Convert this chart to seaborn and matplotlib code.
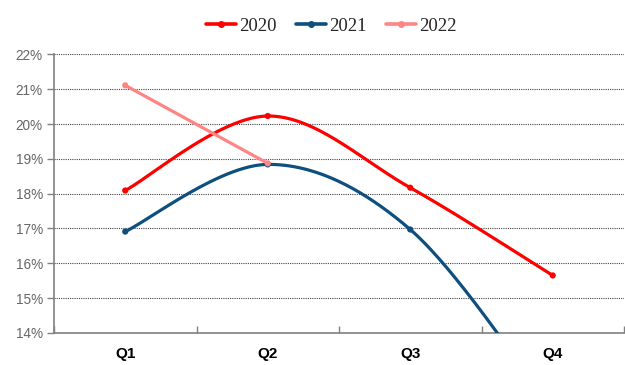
import numpy as np
import pandas as pd
import matplotlib
matplotlib.use("Agg")
import matplotlib.pyplot as plt
from matplotlib.lines import Line2D
import seaborn as sns

quarters = ["Q1", "Q2", "Q3", "Q4"]
years = ["2020", "2021", "2022"]
values_2020 = [18.09, 20.23, 18.17, 15.65]
values_2021 = [16.91, 18.84, 16.97, 11.8]
values_2022 = [21.11, 18.87]
colors = {"2020": "#FF0000", "2021": "#0D4F7E", "2022": "#FF8585"}
y_ticks = [14, 15, 16, 17, 18, 19, 20, 21, 22]


def smooth(xs, ys, n=60):
    """Cubic Bezier smoothing through every point (Catmull-Rom style tangents)."""
    pts = np.column_stack([xs, ys]).astype(float)
    if len(pts) < 3:
        return pts[:, 0], pts[:, 1]
    ext = np.vstack([pts[0], pts, pts[-1]])
    out = []
    t = np.linspace(0, 1, n)[:, None]
    for i in range(len(pts) - 1):
        p0, p3 = ext[i + 1], ext[i + 2]
        c1 = p0 + (ext[i + 2] - ext[i]) / 6.0
        c2 = p3 - (ext[i + 3] - ext[i + 1]) / 6.0
        seg = ((1 - t) ** 3) * p0 + 3 * ((1 - t) ** 2) * t * c1 + 3 * (1 - t) * t ** 2 * c2 + t ** 3 * p3
        out.append(seg if i == 0 else seg[1:])
    seg = np.vstack(out)
    return seg[:, 0], seg[:, 1]


series = {"2020": values_2020, "2021": values_2021, "2022": values_2022}

curve_rows, point_rows = [], []
for year in years:
    vals = series[year]
    xs = np.arange(len(vals))
    cx, cy = smooth(xs, vals)
    for k, (a, b) in enumerate(zip(cx, cy)):
        curve_rows.append({"year": year, "order": k, "x": a, "y": b})
    for a, b in zip(xs, vals):
        point_rows.append({"year": year, "x": a, "y": b})
curves = pd.DataFrame(curve_rows)
points = pd.DataFrame(point_rows)

sns.set_style("white")
plt.rcParams["font.family"] = ["Liberation Sans", "DejaVu Sans"]

fig = plt.figure(figsize=(6.25, 3.65), dpi=100)
ax = fig.add_axes([0.0864, 0.088, 0.912, 0.763])

sns.lineplot(data=curves, x="x", y="y", hue="year", palette=colors, sort=False,
             estimator=None, units="year", linewidth=2.3, ax=ax, legend=False, zorder=3)
sns.scatterplot(data=points, x="x", y="y", hue="year", palette=colors, s=20,
                edgecolor="none", ax=ax, legend=False, zorder=4)

ax.set_xlim(-0.5, 3.5)
ax.set_ylim(14, 22)
ax.set_xlabel("")
ax.set_ylabel("")

# y axis: percent labels, dotted grid
ax.set_yticks(y_ticks)
ax.set_yticklabels([f"{v}%" for v in y_ticks], color="#666666", fontsize=9.8)
ax.yaxis.grid(True, color="#444444", linestyle=(0, (1, 1)), linewidth=0.8)
ax.set_axisbelow(True)
ax.tick_params(axis="y", direction="out", length=5, width=1, color="#808080", pad=3, left=True)

# x axis: tick marks between categories, labels centred on categories
ax.set_xticks(np.arange(-0.5, 4.0, 1.0))
ax.set_xticklabels([])
ax.set_xticks(np.arange(len(quarters)), minor=True)
ax.set_xticklabels(quarters, minor=True, fontsize=11, fontweight="bold", color="black")
ax.tick_params(axis="x", which="major", direction="in", length=5, width=1, color="#808080", bottom=True)
ax.tick_params(axis="x", which="minor", length=0, pad=10)

for side in ["top", "right"]:
    ax.spines[side].set_visible(False)
for side in ["left", "bottom"]:
    ax.spines[side].set_color("#808080")
    ax.spines[side].set_linewidth(1.2)

handles = [Line2D([0], [0], color=colors[y], linewidth=2.6, marker="o", markersize=4) for y in years]
fig.legend(handles, years, loc="center", bbox_to_anchor=(0.53, 0.928), ncol=3, frameon=False,
           prop={"family": "Liberation Serif", "size": 13.5}, handlelength=1.6,
           handletextpad=0.2, columnspacing=1.0)

fig.savefig("out.png", dpi=100)
